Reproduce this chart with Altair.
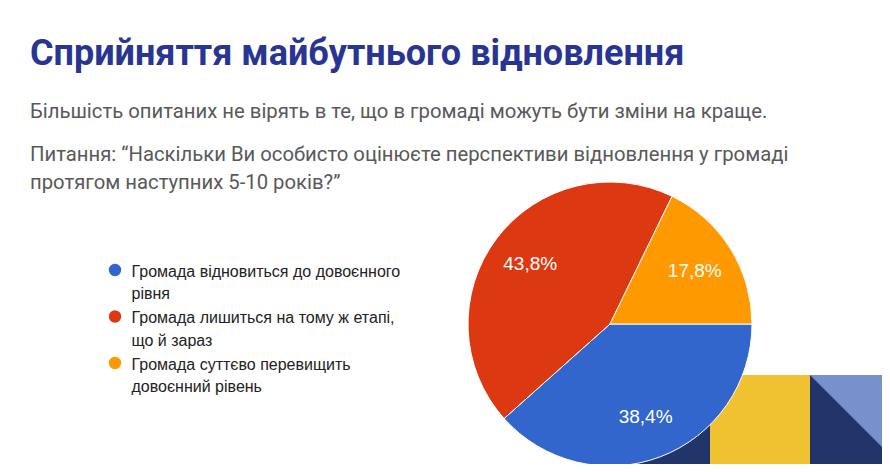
import math
import altair as alt
import pandas as pd

# ---- data ----
categories = [
    "Громада відновиться до довоєнного рівня",
    "Громада лишиться на тому ж етапі, що й зараз",
    "Громада суттєво перевищить довоєнний рівень",
]
legend_line1 = [
    "Громада відновиться до довоєнного",
    "Громада лишиться на тому ж етапі,",
    "Громада суттєво перевищить",
]
legend_line2 = ["рівня", "що й зараз", "довоєнний рівень"]
shares = [38.4, 43.8, 17.8]
colors = ["#3366CC", "#DC3912", "#FF9900"]

title_text = "Сприйняття майбутнього відновлення"
subtitle_text = "Більшість опитаних не вірять в те, що в громаді можуть бути зміни на краще."
question_line1 = "Питання: “Наскільки Ви особисто оцінюєте перспективи відновлення у громаді"
question_line2 = "протягом наступних 5-10 років?”"

# ---- styles ----
W, H = 874, 456
TITLE_COLOR = "#283593"
TEXT_GRAY = "#595959"
NAVY = "#22356A"
YELLOW = "#F0C232"
LIGHT_BLUE = "#7890CC"

df = pd.DataFrame({
    "idx": list(range(len(categories))),
    "category": categories,
    "share": shares,
    "line1": legend_line1,
    "line2": legend_line2,
})

one = alt.Data(values=[{}])

color_enc = alt.Color("category:N", scale=alt.Scale(domain=categories, range=colors), legend=None)
theta_enc = alt.Theta("share:Q", stack=True,
                      scale=alt.Scale(range=[math.pi / 2, math.pi / 2 + 2 * math.pi]))
cx, cy = 602, 316

def text_layer(txt, x, y, size, color, weight="normal", font="Roboto"):
    return alt.Chart(one).mark_text(
        align="left", baseline="alphabetic", font=font, fontSize=size,
        fontWeight=weight, color=color
    ).encode(x=alt.value(x), y=alt.value(y), text=alt.value(txt))

title = text_layer(title_text, 22, 57, 36, TITLE_COLOR, "bold")
sub = text_layer(subtitle_text, 22, 110, 20.3, TEXT_GRAY)
q1 = text_layer(question_line1, 22, 153, 20.3, TEXT_GRAY)
q2 = text_layer(question_line2, 22, 180.5, 20.3, TEXT_GRAY)

# decorative shapes (bottom right)
yellow = alt.Chart(one).mark_rect(color=YELLOW).encode(
    x=alt.value(702), x2=alt.value(803), y=alt.value(367), y2=alt.value(470))
navy_sq = alt.Chart(one).mark_rect(color=NAVY).encode(
    x=alt.value(802), x2=alt.value(900), y=alt.value(367), y2=alt.value(470))
tri_left = alt.Chart(one).mark_point(
    shape="M-1,1L1,-1L1,1Z", filled=True, opacity=1, color=NAVY, strokeWidth=0, size=4 * 48.5 ** 2
).encode(x=alt.value(653.5), y=alt.value(415.5))
tri_right = alt.Chart(one).mark_point(
    shape="M-1,-1L1,-1L1,1Z", filled=True, opacity=1, color=LIGHT_BLUE, strokeWidth=0, size=4 * 48.5 ** 2
).encode(x=alt.value(850.5), y=alt.value(415.5))

base = alt.Chart(df)
pie = base.mark_arc(radius=142, stroke="white", strokeWidth=1).encode(
    theta=theta_enc, color=color_enc, order=alt.Order("idx:Q"),
    x=alt.value(cx), y=alt.value(cy))
pie_labels = base.transform_calculate(
    label="replace(format(datum.share, '.1f'), '.', ',') + '%'"
).mark_text(radius=100, font="Liberation Sans", fontSize=19, color="white").encode(
    theta=theta_enc, order=alt.Order("idx:Q"), text="label:N",
    x=alt.value(cx), y=alt.value(cy))

ypos = alt.Y("idx:Q", scale=alt.Scale(domain=[0, 2], range=[262, 355], nice=False, zero=False), axis=None)
leg_dots = base.mark_circle(size=154, opacity=1).encode(
    x=alt.value(107), y=ypos, color=color_enc)
leg_t1 = base.mark_text(align="left", baseline="alphabetic", dy=6.5, font="Liberation Sans",
                        fontSize=16, color="#222222").encode(x=alt.value(123.5), y=ypos, text="line1:N")
leg_t2 = base.mark_text(align="left", baseline="alphabetic", dy=29, font="Liberation Sans",
                        fontSize=16, color="#222222").encode(x=alt.value(123.5), y=ypos, text="line2:N")

chart = alt.layer(
    yellow, navy_sq, tri_left, tri_right, pie, pie_labels,
    leg_dots, leg_t1, leg_t2, title, sub, q1, q2
).properties(
    width=W, height=H, padding=0, autosize=alt.AutoSizeParams(type="none"),
    background="white"
).configure_view(stroke=None)

chart.save("out.html", embed_options={"renderer": "svg", "actions": False})
